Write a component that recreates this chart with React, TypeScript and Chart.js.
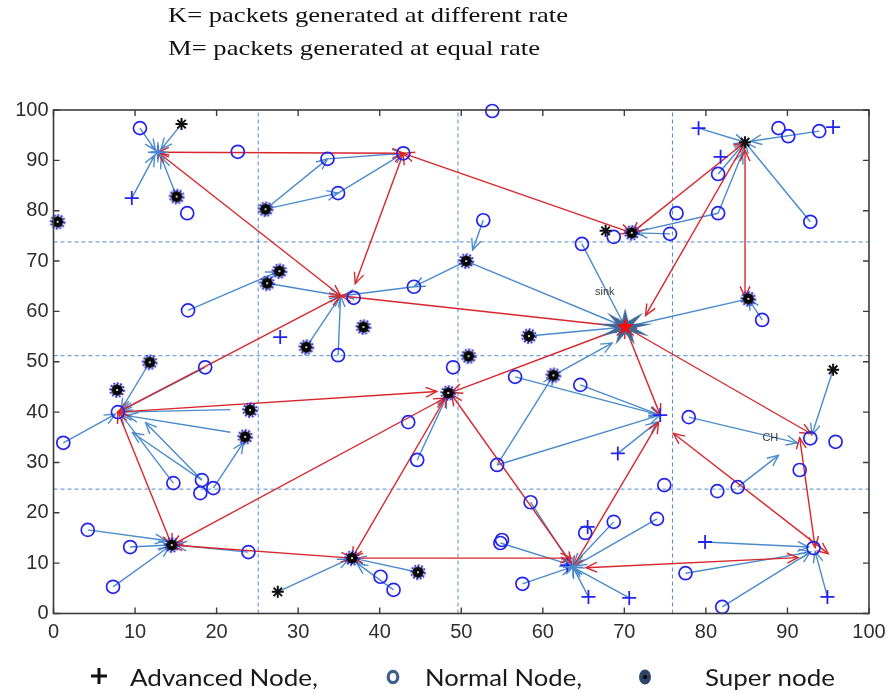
import React, { useEffect, useRef } from "react";
import { Chart, registerables } from "chart.js";

Chart.register(...registerables);

// ---------- DATA ----------
const xTicks = [0, 10, 20, 30, 40, 50, 60, 70, 80, 90, 100];
const yTicks = [0, 10, 20, 30, 40, 50, 60, 70, 80, 90, 100];

const gridX = [25.1, 49.6, 75.9];
const gridY = [73.8, 51.2, 24.7];

const normalNodes: number[][] = [
  [10.6, 96.4], [53.8, 99.8], [22.6, 91.7], [33.6, 90.3], [34.9, 83.5], [42.9, 91.4], [16.4, 79.5],
  [52.7, 78.1], [64.8, 73.4], [68.7, 74.8], [75.6, 75.4], [76.4, 79.5], [81.5, 79.5], [81.5, 87.3],
  [88.9, 96.4], [90.1, 94.8], [93.9, 95.8], [92.8, 77.8], [86.9, 58.3],
  [16.5, 60.2], [36.8, 62.7], [44.2, 64.9], [34.9, 51.3], [18.6, 48.9], [49.0, 48.9], [56.6, 47.0],
  [64.6, 45.4], [77.9, 39.0], [92.8, 34.8], [95.9, 34.1], [91.5, 28.5],
  [1.2, 33.9], [7.9, 40.0], [14.7, 25.9], [18.2, 26.5], [18.0, 23.9], [19.6, 24.9], [43.5, 38.0],
  [44.6, 30.5], [54.4, 29.5], [58.5, 22.1], [54.8, 14.0], [55.0, 14.6], [57.5, 5.9], [65.2, 16.0],
  [68.7, 18.2], [74.0, 18.8], [74.9, 25.5], [81.4, 24.3], [83.9, 25.1], [77.5, 8.0], [82.0, 1.3],
  [93.2, 13.0], [4.2, 16.6], [9.4, 13.2], [7.3, 5.3], [23.9, 12.2], [40.1, 7.3], [41.7, 4.7],
];

const advancedNodes: number[][] = [
  [9.6, 82.5], [12.8, 91.6], [27.8, 54.9], [79.1, 96.4], [81.8, 90.7], [95.6, 96.6], [69.2, 31.8],
  [74.4, 39.4], [65.5, 17.2], [65.6, 3.3], [70.6, 3.1], [79.9, 14.2], [94.9, 3.3], [63.0, 9.6],
];

const superNodes: number[][] = [
  [0.5, 77.8], [15.1, 82.8], [26.0, 80.3], [27.7, 68.0], [26.2, 65.6], [38.0, 56.9], [31.0, 52.9],
  [11.8, 49.9], [7.8, 44.4], [24.1, 40.4], [23.5, 35.1], [14.5, 13.6], [36.6, 11.0], [44.7, 8.2],
  [48.4, 43.8], [50.9, 51.1], [50.6, 70.0], [58.3, 55.1], [61.3, 47.3], [85.2, 62.5], [70.9, 75.6],
];

const plainHeads: number[][] = [
  [15.7, 97.2], [67.7, 76.0], [84.8, 93.6], [95.6, 48.4], [27.5, 4.3],
];

const hubNodes: number[][] = [[12.8, 91.6], [63.7, 9.2]];

const sinkNode: number[] = [70.1, 56.9];

// red links between cluster heads / sink (double-headed)
const redLinks: number[][] = [
  [12.8, 91.6, 42.9, 91.4],
  [12.8, 91.6, 35.2, 63.1],
  [42.9, 91.4, 70.9, 75.6],
  [42.9, 91.4, 37.0, 65.5],
  [70.9, 75.6, 84.8, 93.6],
  [84.8, 93.6, 72.6, 59.2],
  [84.8, 92.0, 84.8, 62.8],
  [35.2, 63.1, 70.1, 56.9],
  [7.9, 40.0, 35.2, 63.1],
  [7.9, 40.0, 47.0, 44.1],
  [7.9, 40.0, 14.5, 13.6],
  [14.5, 13.6, 48.0, 42.8],
  [14.5, 13.6, 36.6, 11.0],
  [36.6, 11.0, 48.2, 43.2],
  [36.6, 11.0, 63.5, 11.0],
  [48.8, 43.5, 63.5, 10.0],
  [48.8, 43.9, 70.1, 56.9],
  [63.7, 9.2, 74.2, 38.0],
  [70.1, 56.9, 74.4, 39.4],
  [70.1, 56.9, 92.9, 35.7],
  [91.5, 34.9, 93.4, 13.1],
  [65.3, 9.1, 91.3, 11.1],
  [95.0, 11.9, 76.0, 35.8],
];

// blue links from member nodes to their cluster head (arrow at end)
const blueLinks: number[][] = [
  [9.6, 82.5, 12.4, 91.0], [15.1, 82.8, 13.2, 90.6], [15.7, 97.2, 13.2, 92.2], [10.6, 96.4, 12.5, 92.0],
  [26.0, 80.3, 33.6, 90.3], [26.0, 80.3, 34.9, 83.5], [33.6, 90.3, 42.9, 91.4], [34.9, 83.5, 42.9, 91.4],
  [81.5, 79.5, 70.9, 75.6], [75.6, 75.4, 71.5, 75.6], [81.5, 87.3, 84.8, 93.6], [81.5, 79.5, 84.5, 91.5],
  [79.1, 96.4, 84.8, 93.6], [93.9, 95.8, 85.5, 93.8], [92.8, 77.8, 84.8, 93.6], [86.9, 58.3, 85.2, 62.5],
  [85.2, 62.5, 70.1, 56.9], [64.8, 73.4, 70.1, 56.9], [50.6, 70.0, 70.1, 56.9], [58.3, 55.1, 70.1, 56.9],
  [61.3, 47.3, 68.5, 53.7], [54.4, 29.5, 61.3, 47.3], [54.4, 29.5, 74.4, 39.4], [56.6, 47.0, 74.4, 39.4],
  [64.6, 45.4, 74.4, 39.4], [69.2, 31.8, 74.0, 38.0], [77.9, 39.0, 91.2, 33.9], [95.6, 48.4, 93.0, 35.5],
  [83.9, 25.1, 88.9, 31.4], [79.9, 14.2, 92.6, 13.2], [77.5, 8.0, 92.8, 12.2], [82.0, 1.3, 92.8, 12.2],
  [94.9, 3.3, 93.4, 12.3], [58.5, 22.1, 63.5, 9.6], [54.8, 14.0, 63.5, 9.6], [57.5, 5.9, 63.5, 9.2],
  [68.7, 18.2, 63.8, 9.8], [74.0, 18.8, 64.0, 9.5], [65.6, 3.3, 63.7, 9.2], [70.6, 3.1, 63.7, 9.2],
  [26.2, 65.6, 35.2, 63.1], [44.2, 64.9, 35.5, 63.1], [50.6, 70.0, 44.2, 64.9], [52.7, 78.1, 51.4, 72.2],
  [34.9, 51.3, 35.2, 63.1], [31.0, 52.9, 35.2, 63.1], [16.5, 60.2, 27.4, 67.8], [44.6, 30.5, 48.2, 43.0],
  [27.5, 4.3, 36.2, 10.8], [44.7, 8.2, 37.0, 10.9], [41.7, 4.7, 37.2, 10.0], [4.2, 16.6, 13.8, 14.5],
  [9.4, 13.2, 14.2, 13.6], [7.3, 5.3, 14.2, 13.3], [23.9, 12.2, 15.0, 13.6], [1.2, 33.9, 7.6, 39.6],
  [11.8, 49.9, 8.3, 40.5], [18.6, 48.9, 8.3, 40.3], [21.7, 40.5, 8.3, 40.0], [21.7, 36.0, 9.0, 39.3],
  [14.7, 25.9, 8.3, 39.5], [18.2, 26.5, 9.7, 35.9], [18.2, 26.5, 11.3, 37.9], [19.6, 24.9, 23.3, 34.0],
];

const noteLabels = [
  { text: "sink", x: 67.6, y: 63.8 },
  { text: "CH", x: 87.9, y: 34.8 },
];

const titleLines = [
  "K= packets generated at different rate",
  "M= packets generated at equal rate",
];
const legendLabels = ["Advanced Node,", "Normal Node,", "Super node"];

// ---------- STYLE ----------
const BLUE_NODE = "#2323ee";
const RED = "#d7262c";
const BLUE_LINK = "#4a8bcb";
const GRID = "#4f8ccf";

function makeSuperIcon(): HTMLCanvasElement {
  const c = document.createElement("canvas");
  c.width = 18;
  c.height = 18;
  const g = c.getContext("2d")!;
  g.fillStyle = "#111";
  g.beginPath();
  g.arc(9, 9, 5.5, 0, Math.PI * 2);
  g.fill();
  g.strokeStyle = "#2f2fe0";
  g.lineWidth = 2;
  g.setLineDash([2, 1.5]);
  g.beginPath();
  g.arc(9, 9, 6.8, 0, Math.PI * 2);
  g.stroke();
  g.setLineDash([]);
  g.strokeStyle = "#000";
  g.lineWidth = 1.4;
  for (let i = 0; i < 4; i++) {
    const a = (i * Math.PI) / 4;
    g.beginPath();
    g.moveTo(9 - 6 * Math.cos(a), 9 - 6 * Math.sin(a));
    g.lineTo(9 + 6 * Math.cos(a), 9 + 6 * Math.sin(a));
    g.stroke();
  }
  g.fillStyle = "#fff";
  g.beginPath();
  g.arc(9, 9, 1.1, 0, Math.PI * 2);
  g.fill();
  return c;
}

function starPath(g: CanvasRenderingContext2D, cx: number, cy: number, n: number, ro: number, ri: number, sx = 1, sy = 1) {
  g.beginPath();
  for (let i = 0; i < n * 2; i++) {
    const r = i % 2 === 0 ? ro : ri;
    const a = -Math.PI / 2 + (i * Math.PI) / n;
    const px = cx + r * Math.cos(a) * sx;
    const py = cy + r * Math.sin(a) * sy;
    if (i === 0) g.moveTo(px, py);
    else g.lineTo(px, py);
  }
  g.closePath();
}

function makeSinkIcon(): HTMLCanvasElement {
  const c = document.createElement("canvas");
  c.width = 64;
  c.height = 44;
  const g = c.getContext("2d")!;
  g.fillStyle = "#3f6897";
  starPath(g, 32, 22, 9, 21, 7, 1.35, 0.9);
  g.fill();
  g.fillStyle = "#ff0a0a";
  starPath(g, 32, 22, 5, 9, 3.8);
  g.fill();
  return c;
}

function toPts(arr: number[][]) {
  return arr.map((p) => ({ x: p[0], y: p[1] }));
}

function drawHead(ctx: CanvasRenderingContext2D, x1: number, y1: number, x2: number, y2: number) {
  const a = Math.atan2(y2 - y1, x2 - x1);
  const len = 12;
  const sp = 0.42;
  ctx.beginPath();
  ctx.moveTo(x2 - len * Math.cos(a - sp), y2 - len * Math.sin(a - sp));
  ctx.lineTo(x2, y2);
  ctx.lineTo(x2 - len * Math.cos(a + sp), y2 - len * Math.sin(a + sp));
  ctx.stroke();
}

const arrowPlugin = {
  id: "arrowHeads",
  afterDatasetDraw(chart: any, args: any) {
    const ds = chart.data.datasets[args.index];
    if (!ds.heads) return;
    const pts = args.meta.data;
    if (!pts || pts.length < 2) return;
    const ctx = chart.ctx as CanvasRenderingContext2D;
    ctx.save();
    ctx.strokeStyle = ds.borderColor;
    ctx.lineWidth = ds.borderWidth;
    drawHead(ctx, pts[0].x, pts[0].y, pts[1].x, pts[1].y);
    if (ds.heads === "both") drawHead(ctx, pts[1].x, pts[1].y, pts[0].x, pts[0].y);
    ctx.restore();
  },
};

function fitText(ctx: CanvasRenderingContext2D, text: string, x: number, y: number, w: number) {
  const m = ctx.measureText(text).width;
  ctx.save();
  ctx.translate(x, y);
  ctx.scale(w / m, 1);
  ctx.fillText(text, 0, 0);
  ctx.restore();
}

const framePlugin = {
  id: "frameAndText",
  afterDraw(chart: any) {
    const ctx = chart.ctx as CanvasRenderingContext2D;
    const { left, right, top, bottom } = chart.chartArea;
    const xs = chart.scales.x;
    const ys = chart.scales.y;
    ctx.save();
    ctx.strokeStyle = "#3c3c3c";
    ctx.lineWidth = 1.6;
    ctx.strokeRect(left, top, right - left, bottom - top);
    ctx.lineWidth = 1.4;
    const tl = 6;
    xTicks.forEach((v) => {
      const px = xs.getPixelForValue(v);
      ctx.beginPath();
      ctx.moveTo(px, bottom);
      ctx.lineTo(px, bottom - tl);
      ctx.moveTo(px, top);
      ctx.lineTo(px, top + tl);
      ctx.stroke();
    });
    yTicks.forEach((v) => {
      const py = ys.getPixelForValue(v);
      ctx.beginPath();
      ctx.moveTo(left, py);
      ctx.lineTo(left + tl, py);
      ctx.moveTo(right, py);
      ctx.lineTo(right - tl, py);
      ctx.stroke();
    });

    // small labels inside plot
    ctx.fillStyle = "#3a3a3a";
    ctx.font = '11px "Liberation Sans", Arial, sans-serif';
    ctx.textAlign = "center";
    ctx.textBaseline = "middle";
    noteLabels.forEach((l) => {
      ctx.fillText(l.text, xs.getPixelForValue(l.x), ys.getPixelForValue(l.y));
    });

    // title lines
    ctx.fillStyle = "#111";
    ctx.textAlign = "left";
    ctx.textBaseline = "alphabetic";
    ctx.font = '21px "Liberation Serif", "Times New Roman", serif';
    fitText(ctx, titleLines[0], 168, 22, 400);
    fitText(ctx, titleLines[1], 168, 54.5, 372);

    // legend
    ctx.strokeStyle = "#111";
    ctx.lineWidth = 3;
    ctx.beginPath();
    ctx.moveTo(91, 676);
    ctx.lineTo(107, 676);
    ctx.moveTo(99, 668);
    ctx.lineTo(99, 684);
    ctx.stroke();

    ctx.strokeStyle = "#3d5f8f";
    ctx.lineWidth = 3.2;
    ctx.beginPath();
    ctx.ellipse(393, 677, 4.8, 5.6, 0, 0, Math.PI * 2);
    ctx.stroke();

    ctx.fillStyle = "#2d4466";
    ctx.beginPath();
    ctx.ellipse(645, 677, 6, 7.5, 0, 0, Math.PI * 2);
    ctx.fill();
    ctx.fillStyle = "#000";
    ctx.beginPath();
    ctx.arc(645, 677, 2, 0, Math.PI * 2);
    ctx.fill();

    ctx.fillStyle = "#1a1a1a";
    ctx.font = '23px Lato, "Open Sans", sans-serif';
    fitText(ctx, legendLabels[0], 130, 686, 188);
    fitText(ctx, legendLabels[1], 425, 686, 157);
    fitText(ctx, legendLabels[2], 705, 686, 130);
    ctx.restore();
  },
};

export default function App() {
  const ref = useRef<HTMLCanvasElement | null>(null);

  useEffect(() => {
    if (!ref.current) return;
    const superIcon = makeSuperIcon();
    const sinkIcon = makeSinkIcon();

    const datasets: any[] = [];

    datasets.push({
      data: toPts([sinkNode]),
      pointStyle: sinkIcon,
      pointRadius: 10,
      order: 0,
      clip: false,
    });
    datasets.push({
      data: toPts(superNodes),
      pointStyle: superIcon,
      pointRadius: 7,
      order: 0,
      clip: false,
    });
    datasets.push({
      data: toPts(plainHeads),
      pointStyle: "star",
      pointRadius: 6,
      borderColor: "#111",
      backgroundColor: "#111",
      borderWidth: 2,
      order: 0,
      clip: false,
    });
    datasets.push({
      data: toPts(hubNodes),
      pointStyle: "star",
      pointRadius: 10,
      borderColor: BLUE_LINK,
      borderWidth: 1.4,
      order: 0,
      clip: false,
    });
    datasets.push({
      data: toPts(advancedNodes),
      pointStyle: "cross",
      pointRadius: 7,
      borderColor: BLUE_NODE,
      borderWidth: 1.8,
      order: 0,
      clip: false,
    });
    datasets.push({
      data: toPts(normalNodes),
      pointStyle: "circle",
      pointRadius: 6.5,
      borderColor: BLUE_NODE,
      backgroundColor: "rgba(255,255,255,0)",
      borderWidth: 1.7,
      order: 0,
      clip: false,
    });

    redLinks.forEach((l) => {
      datasets.push({
        data: [{ x: l[0], y: l[1] }, { x: l[2], y: l[3] }],
        showLine: true,
        borderColor: RED,
        borderWidth: 1.4,
        pointRadius: 0,
        heads: "both",
        order: 1,
      });
    });
    blueLinks.forEach((l) => {
      datasets.push({
        data: [{ x: l[0], y: l[1] }, { x: l[2], y: l[3] }],
        showLine: true,
        borderColor: BLUE_LINK,
        borderWidth: 1.4,
        pointRadius: 0,
        heads: "end",
        order: 2,
      });
    });
    gridX.forEach((g) => {
      datasets.push({
        data: [{ x: g, y: 0 }, { x: g, y: 100 }],
        showLine: true,
        borderColor: GRID,
        borderWidth: 1,
        borderDash: [4, 3],
        pointRadius: 0,
        order: 3,
      });
    });
    gridY.forEach((g) => {
      datasets.push({
        data: [{ x: 0, y: g }, { x: 100, y: g }],
        showLine: true,
        borderColor: GRID,
        borderWidth: 1,
        borderDash: [4, 3],
        pointRadius: 0,
        order: 3,
      });
    });

    const tickFont = { family: '"Liberation Sans", Arial, sans-serif', size: 20 };

    const chart = new Chart(ref.current, {
      type: "scatter",
      data: { datasets },
      options: {
        animation: false,
        responsive: false,
        maintainAspectRatio: false,
        events: [],
        layout: { padding: { top: 110, right: 25, bottom: 38.5, left: 0 } },
        plugins: { legend: { display: false }, tooltip: { enabled: false } },
        scales: {
          x: {
            type: "linear",
            min: 0,
            max: 100,
            afterBuildTicks: (s: any) => {
              s.ticks = xTicks.map((v) => ({ value: v }));
            },
            afterFit: (s: any) => {
              s.height = 40;
            },
            ticks: { font: tickFont, color: "#2e2e2e", padding: 7, maxRotation: 0, autoSkip: false },
            grid: { display: false, drawTicks: false },
            border: { display: false },
          },
          y: {
            type: "linear",
            min: 0,
            max: 100,
            afterBuildTicks: (s: any) => {
              s.ticks = yTicks.map((v) => ({ value: v }));
            },
            afterFit: (s: any) => {
              s.width = 53.5;
            },
            ticks: { font: tickFont, color: "#2e2e2e", padding: 5, autoSkip: false },
            grid: { display: false, drawTicks: false },
            border: { display: false },
          },
        },
      } as any,
      plugins: [arrowPlugin, framePlugin],
    });
    return () => chart.destroy();
  }, []);

  return (
    <div style={{ position: "fixed", left: 0, top: 0, width: 894, height: 692, background: "#fff" }}>
      <canvas ref={ref} width={894} height={692} style={{ display: "block", width: 894, height: 692 }} />
    </div>
  );
}
